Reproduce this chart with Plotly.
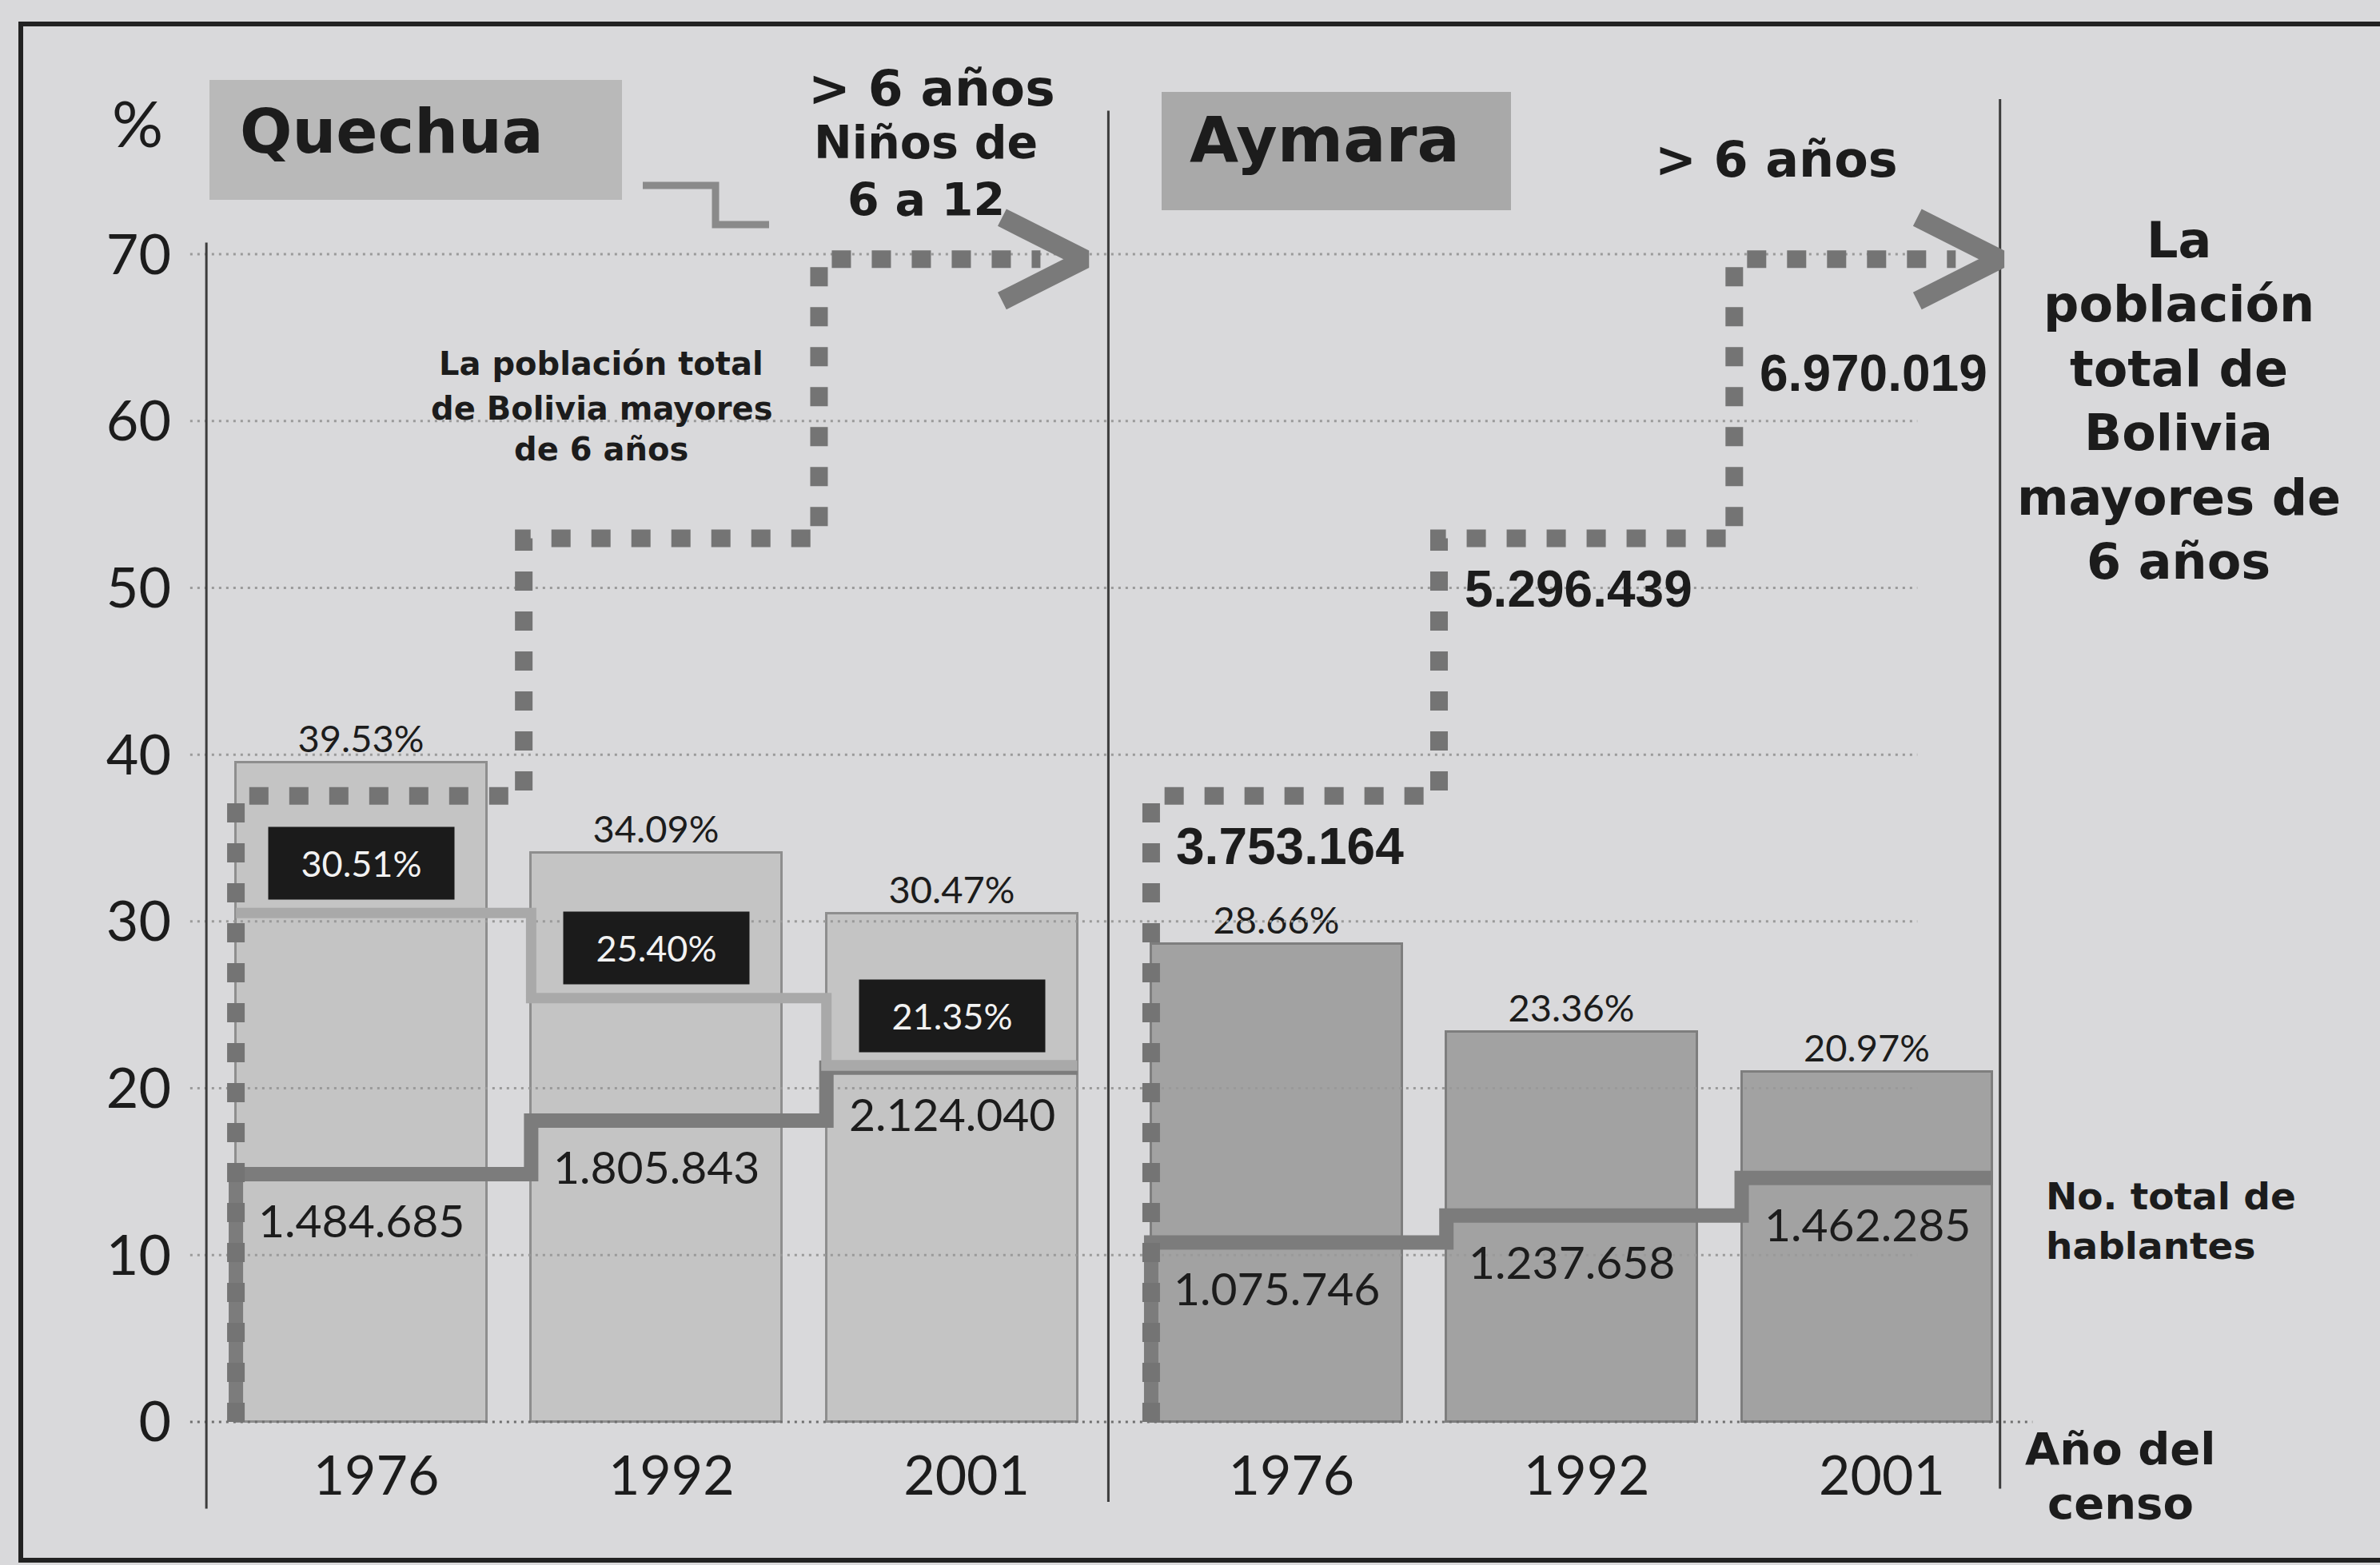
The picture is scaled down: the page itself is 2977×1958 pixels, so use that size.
import plotly.graph_objects as go

W, H = 2977, 1958

# ---------------- data ----------------
years = ["1976", "1992", "2001"]
quechua_pct = [39.53, 34.09, 30.47]
quechua_ninos_pct = [30.51, 25.40, 21.35]
quechua_hablantes = [1484685, 1805843, 2124040]
aymara_pct = [28.66, 23.36, 20.97]
aymara_hablantes = [1075746, 1237658, 1462285]
poblacion_mayores_6 = [3753164, 5296439, 6970019]
y_ticks = [0, 10, 20, 30, 40, 50, 60, 70]

PER_UNIT = 100000  # on the % scale, 10 = 1.000.000 people

# ---------------- layout helpers ----------------
GROUP_START = {"Quechua": 0.0, "Aymara": 3.1}
BAR_W = 0.85
HALF = BAR_W / 2
X_RANGE = [-1.224, 6.837]
Y_RANGE = [-8.58, 85.24]

REG = "Lato, Liberation Sans, sans-serif"
BOLD = "DejaVu Sans, sans-serif"
LIB = "Liberation Sans, Arial, sans-serif"
INK = "#1c1c1c"

# vertical offsets (in % units) of the population labels under the dashed line
POP_LABEL_DY = [-1.2, -1.2, -5.0]


def xs(group):
    return [GROUP_START[group] + i for i in range(len(years))]


def fmt_int(v):
    return f"{v:,}".replace(",", ".")


def fmt_pct(v):
    return f"{v:.2f}%"


def scaled(vals):
    return [v / PER_UNIT for v in vals]


def speakers_step(xc, vals):
    xx = [xc[0] - HALF] + [x - HALF for x in xc] + [xc[-1] + HALF]
    yy = [0] + list(vals) + [vals[-1]]
    return xx, yy


def ninos_step(xc, vals):
    xx = [x - HALF for x in xc] + [xc[-1] + HALF]
    yy = list(vals) + [vals[-1]]
    return xx, yy


def pop_step(xc, vals, step_off=0.55, end_off=0.3):
    xx = [xc[0] - HALF, xc[0] - HALF] + [x + step_off for x in xc[:-1]] + [xc[-1] + end_off]
    yy = [0, vals[0]] + list(vals[1:]) + [vals[-1]]
    return xx, yy


def pp(xpx, ypx):
    return xpx / W, 1 - ypx / H


def ann_px(text, x, y, size, family=BOLD, bold=True, xanchor="center", yanchor="middle", color=INK):
    px, py = pp(x, y)
    return dict(text=f"<b>{text}</b>" if bold else text, x=px, y=py, xref="paper", yref="paper",
                xanchor=xanchor, yanchor=yanchor, showarrow=False,
                font=dict(size=size, color=color, family=family))


fig = go.Figure()

qx = xs("Quechua")
ax = xs("Aymara")

# gridlines
for t in y_ticks:
    x_end = 5.66 if t == 0 else 5.27
    fig.add_trace(go.Scatter(x=[-0.58, x_end], y=[t, t], mode="lines",
                             line=dict(color="#6f6f6f" if t == 0 else "#9a9a9a", width=3, dash="3px,6px"),
                             hoverinfo="skip", showlegend=False))

# bars
fig.add_trace(go.Bar(x=qx, y=quechua_pct, width=BAR_W, marker=dict(color="#c4c4c4", line=dict(color="#8e8e8e", width=3)),
                     text=[fmt_pct(v) for v in quechua_pct], textposition="outside", cliponaxis=False,
                     textfont=dict(family=REG, size=47, color=INK), showlegend=False))
fig.add_trace(go.Bar(x=ax, y=aymara_pct, width=BAR_W, marker=dict(color="#a2a2a2", line=dict(color="#7e7e7e", width=3)),
                     text=[fmt_pct(v) for v in aymara_pct], textposition="outside", cliponaxis=False,
                     textfont=dict(family=REG, size=47, color=INK), showlegend=False))

# divider / axis lines
for xv, y0, y1 in [(-0.525, -5.2, 70.7), (2.53, -4.8, 78.6), (5.55, -4.0, 79.3)]:
    fig.add_trace(go.Scatter(x=[xv, xv], y=[y0, y1], mode="lines", line=dict(color="#3c3c3c", width=3),
                             hoverinfo="skip", showlegend=False))

# speakers step lines (No. total de hablantes)
for xc, vals in [(qx, scaled(quechua_hablantes)), (ax, scaled(aymara_hablantes))]:
    sx, sy = speakers_step(xc, vals)
    fig.add_trace(go.Scatter(x=sx, y=sy, mode="lines", line=dict(color="#7c7c7c", width=18, shape="hv"),
                             hoverinfo="skip", showlegend=False))

# children 6-12 step line (Quechua)
nx, ny = ninos_step(qx, quechua_ninos_pct)
fig.add_trace(go.Scatter(x=nx, y=ny, mode="lines", line=dict(color="#a9a9a9", width=13, shape="hv"),
                         hoverinfo="skip", showlegend=False))

# total population (> 6 years) dashed step + chevron arrow
for xc in (qx, ax):
    pv = scaled(poblacion_mayores_6)
    px_, py_ = pop_step(xc, pv)
    fig.add_trace(go.Scatter(x=px_, y=py_, mode="lines",
                             line=dict(color="#747474", width=22, dash="24px,26px", shape="hv"),
                             hoverinfo="skip", showlegend=False))
    xe, pe = xc[-1], pv[-1]
    fig.add_trace(go.Scatter(x=[xe + 0.17, xe + 0.45, xe + 0.17], y=[pe + 2.5, pe, pe - 2.5], mode="lines",
                             line=dict(color="#7a7a7a", width=24), hoverinfo="skip", showlegend=False))

annotations = []

# black boxes: children 6-12
for xv, v in zip(qx, quechua_ninos_pct):
    annotations.append(dict(x=xv, y=v + 0.8, xref="x", yref="y", text=fmt_pct(v), showarrow=False,
                            xanchor="center", yanchor="bottom", width=232, height=90, borderpad=0,
                            bgcolor="#1b1b1b", font=dict(family=REG, size=45, color="#f2f2f2")))

# speaker counts
for xc, vals in [(qx, quechua_hablantes), (ax, aymara_hablantes)]:
    for xv, v in zip(xc, vals):
        annotations.append(dict(x=xv, y=v / PER_UNIT - 1.0, xref="x", yref="y", text=fmt_int(v),
                                showarrow=False, xanchor="center", yanchor="top",
                                font=dict(family=REG, size=57, color=INK)))

# population labels (Aymara side)
pv = scaled(poblacion_mayores_6)
step_x = [ax[0] - HALF] + [x + 0.55 for x in ax[:-1]]
for sxv, v, raw, dy in zip(step_x, pv, poblacion_mayores_6, POP_LABEL_DY):
    annotations.append(dict(x=sxv + 0.08, y=v + dy, xref="x", yref="y", text=f"<b>{fmt_int(raw)}</b>",
                            showarrow=False, xanchor="left", yanchor="top",
                            font=dict(family=LIB, size=64, color=INK)))

# titles and texts
annotations += [
    ann_px("%", 172, 153, 80, family=REG, bold=False),
    ann_px("Quechua", 490, 165, 77),
    ann_px("Aymara", 1657, 175, 79),
    ann_px("&gt; 6 años", 1165, 110, 63),
    ann_px("Niños de", 1158, 178, 57),
    ann_px("6 a 12", 1158, 250, 57),
    ann_px("&gt; 6 años", 2222, 200, 62),
    ann_px("La población total", 752, 455, 40),
    ann_px("de Bolivia mayores", 752, 511, 40),
    ann_px("de 6 años", 752, 562, 40),
    ann_px("La", 2725, 300, 62),
    ann_px("población", 2725, 380, 62),
    ann_px("total de", 2725, 461, 62),
    ann_px("Bolivia", 2725, 541, 62),
    ann_px("mayores de", 2725, 622, 62),
    ann_px("6 años", 2725, 702, 62),
    ann_px("No. total de", 2557, 1496, 47, xanchor="left"),
    ann_px("hablantes", 2557, 1558, 47, xanchor="left"),
    ann_px("Año del", 2652, 1812, 56),
    ann_px("censo", 2652, 1880, 56),
]

shapes = []
# title boxes
for (x0, y0, x1, y1, col) in [(262, 100, 778, 250, "#b9b9b9"), (1453, 115, 1890, 263, "#a9a9a9")]:
    a0, b0 = pp(x0, y0)
    a1, b1 = pp(x1, y1)
    shapes.append(dict(type="rect", xref="paper", yref="paper", x0=a0, y0=b1, x1=a1, y1=b0,
                       fillcolor=col, line=dict(width=0), layer="below"))
# legend glyph for children line
gx = [804, 895, 895, 962]
gy = [232, 232, 281, 281]
path = "M " + " L ".join(f"{x / W:.5f},{1 - y / H:.5f}" for x, y in zip(gx, gy))
shapes.append(dict(type="path", xref="paper", yref="paper", path=path, line=dict(color="#8a8a8a", width=9)))
# outer frame
a0, b0 = pp(26, 30)
a1, b1 = pp(3100, 1952)
shapes.append(dict(type="rect", xref="paper", yref="paper", x0=a0, y0=b1, x1=a1, y1=b0,
                   line=dict(color="#222222", width=6), fillcolor="rgba(0,0,0,0)"))

fig.update_layout(
    width=W, height=H, autosize=False,
    margin=dict(l=0, r=0, t=0, b=0, pad=0),
    paper_bgcolor="#d9d9db", plot_bgcolor="#d9d9db",
    showlegend=False, bargap=0,
    annotations=annotations, shapes=shapes,
    xaxis=dict(range=X_RANGE, domain=[0, 1], anchor="free", position=(H - 1779) / H,
               tickvals=[x + 0.05 for x in qx + ax], ticktext=years + years,
               tickfont=dict(family=REG, size=68, color=INK), ticks="", ticklabelstandoff=22,
               showgrid=False, zeroline=False, showline=False, fixedrange=True),
    yaxis=dict(range=Y_RANGE, domain=[0, 1], anchor="free", position=214 / W,
               tickvals=y_ticks, ticktext=[str(t) for t in y_ticks],
               tickfont=dict(family=REG, size=70, color=INK), ticks="",
               showgrid=False, zeroline=False, showline=False, fixedrange=True),
)

fig.write_html("out.html", config={"displayModeBar": False},
               post_script="document.body.style.margin='0';")
